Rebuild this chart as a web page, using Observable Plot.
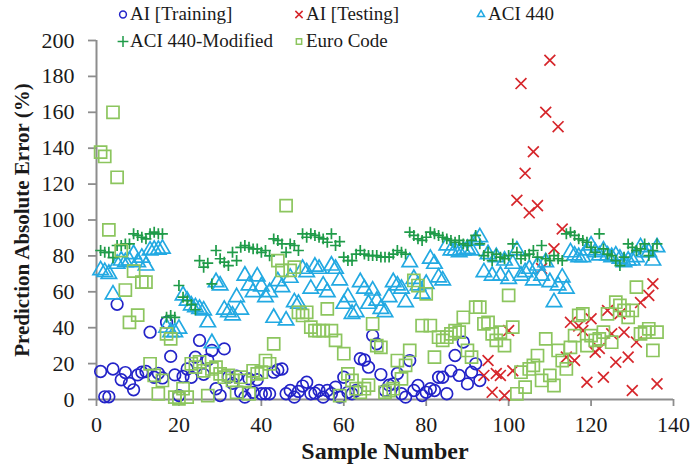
<!DOCTYPE html>
<html>
<head>
<meta charset="utf-8">
<script src="https://cdn.jsdelivr.net/npm/d3@7"></script>
<script src="https://cdn.jsdelivr.net/npm/@observablehq/plot@0.6"></script>
<style>
  html, body { margin: 0; padding: 0; background: #fff; }
  #chart { position: relative; width: 694px; height: 474px; font-family: "Liberation Serif", "DejaVu Serif", serif; }
  #chart svg { display: block; }
  #chart svg text { font-family: "Liberation Serif", "DejaVu Serif", serif; }
  .legend { position: absolute; left: 0; top: 0; width: 694px; height: 56px; pointer-events: none; }
  .legend .item { position: absolute; display: flex; align-items: center; font-size: 19px; color: #1a1a1a; white-space: nowrap; }
  .legend .item svg { margin-right: 2px; overflow: visible; }
</style>
</head>
<body>
<div id="chart"></div>
<script>
// Prediction absolute error (%) per sample, one value per sample number
const trainingStart = 1;   // AI [Training]: samples 1–93
const trainingError = [
  15.6, 1.5, 1.5, 17, 53, 11, 15, 9, 5.4, 13.7,
  15.2, 15.6, 37.5, 12.4, 14.6, 12, 43, 24, 13.7, 2.2,
  12.8, 17, 12.4, 23.6, 32.9, 14, 22, 27.3, 6, 2.2,
  28.2, 12.4, 9, 13, 4, 1.3, 11.5, 4, 11, 3.2,
  3.2, 3.2, 15.2, 16.5, 17, 3.2, 5, 1.3, 4.5, 7.5,
  9.6, 3.2, 3.5, 5, 1.3, 5, 3.2, 6.9, 1.3, 12.4,
  4, 3.2, 5, 22.7, 22, 18, 35.6, 31, 13.9, 5,
  8, 8.7, 14.5, 3.2, 1.3, 21.7, 5, 7.8, 2.2, 4,
  6, 5, 12.4, 12.4, 3.2, 16, 24.5, 13.4, 32, 8.7,
  15.2, 19.9, 10.6
];

const testingStart = 94;   // AI [Testing]: samples 94–136
const testingError = [
  13.4, 21.7, 4, 14.5, 13.4, 2.2, 38.4, 16, 111, 176,
  126, 104, 138, 108, 73, 160, 189, 84, 152, 95,
  23.6, 43, 21.7, 41, 38.4, 9.6, 45, 26.4, 28.4, 12.4,
  49.6, 36.6, 20.8, 47.8, 37.5, 23.6, 5, 32, 54, null,
  58, 64.5, 8.7
];

const codeStart = 1;       // design codes: samples 1–136
const aci440Error = [
  72, 71, 70, 58.5, 75.6, 77.4, 76.5, 77.4, 81, 76.5,
  79, 74.6, 83, 83.4, 83.4, 84, 40, 37.5, 37.5, 39.4,
  58, 55, 52.4, 51.4, 50.5, 49.6, 43, 31.4, 65.4, 63.5,
  50, 48.6, 46.8, 57, 50, 69, 63.5, 59.8, 68.5, 63,
  57, 59.8, 45.5, 65.9, 62.6, 44, 67.8, 54.2, 53.3, 72.8,
  70.9, 61.7, 74, 72.8, 63.5, 59.8, 74.6, 72.8, 66.3, 53.3,
  57, 47.7, 48.6, 65.4, 61.7, 53.3, 60.7, 55, 50.5, 48.6,
  57, 65.4, 63.5, 61.7, 54.2, 76.5, 67.2, 63.5, 58.9, 64.4,
  78.4, 75.6, 68, 66.3, 85.8, 83, 83, 82, 83, 83.9,
  83, 88.5, 90.4, 70.9, 81, 69, 79.3, 69, 77.4, 67.2,
  75.6, 83, 69, 70.9, 72.8, 66.3, 74.6, 69, 76.5, 65.4,
  54.2, 63.5, 68, 61.7, 82, 80.2, 79.3, 79.3, 83, 85.8,
  82, 80.2, 83, 80.2, 79.3, 80.2, 78.4, 76.5, 77.4, 77.4,
  79.3, 84.8, 82, 82, 77.4, 84.8
];

const aci440ModError = [
  83, 82, 82, 79, 85.8, 85.8, 86.7, 86.7, 92.3, 91.4,
  90.4, 89.5, 92.3, 93.2, 92.3, 92.3, 45.8, 46.8, 45.8, 63.5,
  57, 55, 53, 50, 77.4, 73.7, 76, 64.4, 83, 78.4,
  76.5, 74.6, 82, 77.4, 84.8, 85.8, 84.8, 83.9, 83.9, 82,
  83, 80, 89.5, 88.6, 86.7, 82, 86.7, 85.8, 83, 92.3,
  90.4, 92.3, 91.4, 90.4, 89.5, 87.6, 92.3, 85.8, 88, 79.3,
  77.4, 77.4, 81, 83, 81, 80.2, 80.2, 80.2, 79.3, 79.3,
  79.3, 81, 83, 82, 81, 93.2, 91.4, 89.5, 88.6, 90.4,
  93.2, 92.3, 91.4, 90.4, 89.5, 88.6, 87.6, 88.6, 86.7, 85.8,
  88.6, 91.4, 86.7, 80.2, 82, 77.4, 81, 79.3, 78.4, 80.2,
  86.7, 82, 78.4, 80.2, 81, 83, 79.3, 85.8, 78.4, 77.4,
  80.2, 78.4, 77.4, 92.3, 93.2, 91.4, 89.5, 88.6, 87.6, 84.8,
  82, 92.3, 83.9, 81, 80.2, 77.4, 74.6, 79.3, 86.7, 84.8,
  83, 83.9, 86.7, 80.2, 83, 86.7
];

const euroCodeError = [
  137.8, 135.4, 94.5, 160, 123.8, 83, 61, 43, 71.5, 47,
  65.4, 65.4, 19.9, 13.4, 3.2, 10.6, 36.6, 33.8, 1.3, 0.4,
  6, 1.3, 19.9, 18, 21, 16, 2.2, 17, 18, 14.3,
  12.4, 13.4, 10.6, 4, 12.4, 10.6, 3.2, 16, 14.3, 15.2,
  21.7, 19.9, 31, 77.4, 71.9, 108, 71.9, 73.7, 48.6, 46.8,
  48.6, 40.3, 38.4, 38.4, 38.4, 50.5, 38.4, 32.9, 2.2, 25.5,
  14.3, 10.6, 6, 4, 6, 8, 42.2, 30, 29, 4,
  5, 6, 21.7, 11.5, 19, 27.3, 66.3, 63.5, 41.2, 58.9,
  41.2, 23.6, 34.7, 32.9, 34.7, 36.6, 38.4, 37.5, 45.8, 27.3,
  23.6, 51.4, 51.4, 42.2, 43, 36.6, 32.9, 37.5, 30, 58,
  40.3, 3.2, 15.2, 6.9, 17, 19, 24.5, 10.6, 33.8, 13.4,
  7.8, 27.3, 21.7, 17, 29, 35.6, 46.8, 47.7, 30, 35.6,
  32.9, 33.8, 37.5, 47.7, 31.9, 54.2, 52.4, 49.6, 45.8, 49.6,
  62.6, 36.6, 37.5, 39.4, 27.3, 37.5
];

const xTicks = [0, 20, 40, 60, 80, 100, 120, 140];
const yTicks = [0, 20, 40, 60, 80, 100, 120, 140, 160, 180, 200];

// Series appearance, in legend order
const series = [
  {name: "AI [Training]",     values: trainingError,  start: trainingStart, symbol: "circle",   color: "#2323c8", r: 5.8},
  {name: "AI [Testing]",      values: testingError,   start: testingStart,  symbol: "times",    color: "#d6262b", r: 5},
  {name: "ACI 440",           values: aci440Error,    start: codeStart,     symbol: "triangle", color: "#22a9e2", r: 5.7},
  {name: "ACI 440-Modified",  values: aci440ModError, start: codeStart,     symbol: "plus",     color: "#1f9b48", r: 3.6},
  {name: "Euro Code",         values: euroCodeError,  start: codeStart,     symbol: "square",   color: "#8cc55e", r: 6.8}
];

const toRows = (s) => s.values
  .map((v, i) => ({sample: s.start + i, error: v}))
  .filter(d => d.error != null);

const axisGray = "#8d8d8d";
const textColor = "#1a1a1a";
const serif = "'Liberation Serif', 'DejaVu Serif', serif";

const plot = Plot.plot({
  width: 694,
  height: 474,
  marginLeft: 96,
  marginRight: 21,
  marginTop: 40,
  marginBottom: 75,
  style: {fontFamily: serif, fontSize: "22px", color: textColor, background: "#fff", overflow: "visible"},
  x: {domain: [0, 140]},
  y: {domain: [0, 200]},
  marks: [
    Plot.axisX({ticks: xTicks, tickSize: 7, tickPadding: 10, stroke: axisGray, strokeWidth: 1.8, fill: textColor, label: null, fontSize: 22}),
    Plot.axisY({ticks: yTicks, tickSize: 8, tickPadding: 14, stroke: axisGray, strokeWidth: 1.8, fill: textColor, label: null, fontSize: 22}),
    Plot.ruleX([0], {stroke: axisGray, strokeWidth: 2}),
    Plot.ruleY([0], {stroke: axisGray, strokeWidth: 2}),
    ...series.map(s => Plot.dot(toRows(s), {
      x: "sample", y: "error", symbol: () => s.symbol, r: s.r,
      stroke: s.color, fill: "none", strokeWidth: 1.7
    })),
    Plot.text(["Sample Number"], {frameAnchor: "bottom", dy: 59, textAnchor: "middle", fontWeight: "bold", fontSize: 24, fill: textColor}),
    Plot.text(["Prediction Absolute Error (%)"], {frameAnchor: "left", dx: -74, textAnchor: "middle", rotate: -90, fontWeight: "bold", fontSize: 21, fill: textColor})
  ]
});

const chart = document.getElementById("chart");
chart.appendChild(plot);

// Legend: two rows of symbol + label, laid over the top of the chart
const legendCols = [118, 294, 476];
const legendRows = [3, 30];
const legend = document.createElement("div");
legend.className = "legend";
const symbolPaths = {
  circle: d3.symbolCircle, times: d3.symbolTimes, triangle: d3.symbolTriangle2,
  plus: d3.symbolPlus, square: d3.symbolSquare2
};
series.forEach((s, i) => {
  const item = document.createElement("div");
  item.className = "item";
  item.style.left = legendCols[i % 3] + "px";
  item.style.top = legendRows[Math.floor(i / 3)] + "px";
  const sw = d3.create("svg").attr("width", 10).attr("height", 22);
  sw.append("path")
    .attr("transform", "translate(5,11.5)")
    .attr("d", d3.symbol(symbolPaths[s.symbol], s.symbol === "plus" ? 40 : 36)())
    .attr("fill", "none")
    .attr("stroke", s.color)
    .attr("stroke-width", 1.5);
  item.appendChild(sw.node());
  const label = document.createElement("span");
  label.textContent = s.name;
  item.appendChild(label);
  legend.appendChild(item);
});
chart.appendChild(legend);
</script>
</body>
</html>
